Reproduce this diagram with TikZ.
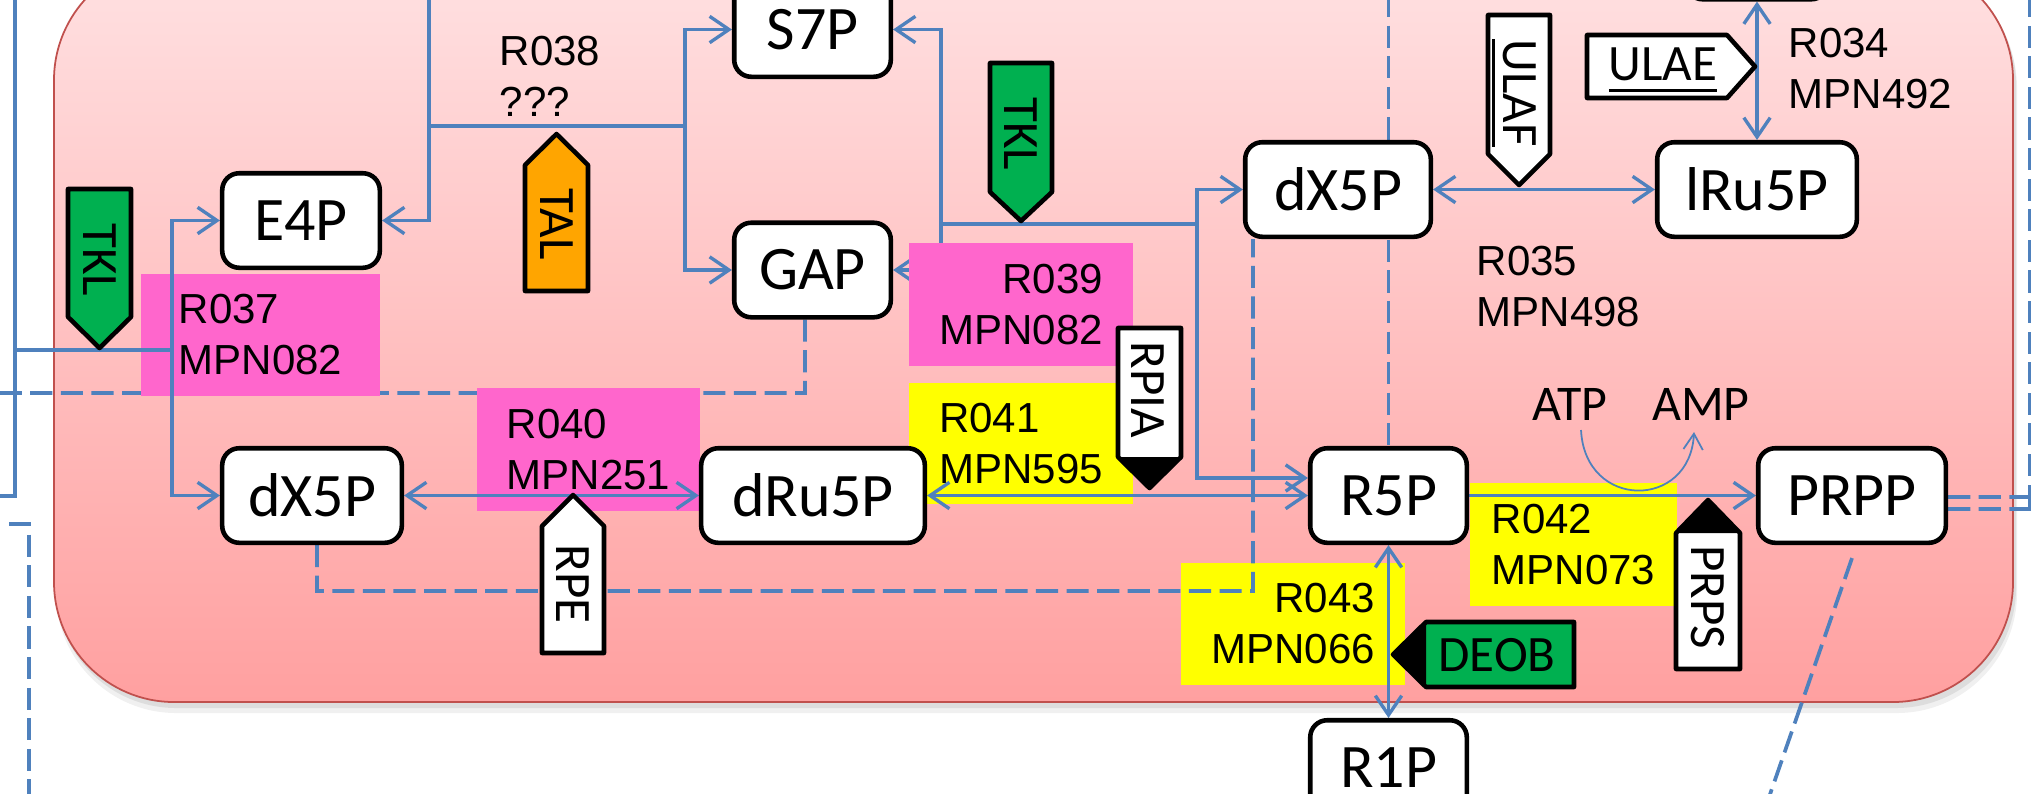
\documentclass[tikz,border=0pt]{standalone}
\usepackage{fontspec}
\setmainfont{Liberation Sans}
\newfontfamily\carlfont{Carlito}
\usetikzlibrary{arrows.meta,calc}
\definecolor{lineblue}{HTML}{4F81BD}
\definecolor{pinkbox}{HTML}{FF66CC}
\definecolor{yelbox}{HTML}{FFFF00}
\definecolor{enzgreen}{HTML}{00B050}
\definecolor{enzorange}{HTML}{FFA500}
\definecolor{rimred}{HTML}{C0504D}
\definecolor{bgtop}{HTML}{FFE1E2}
\definecolor{bgbot}{HTML}{FFA0A0}
\newcommand\myNF{\carlfont\fontsize{17.6pt}{21pt}\selectfont}
\newcommand\myLF{\fontsize{11.95pt}{14.5pt}\selectfont}
\newcommand\myEF{\carlfont\fontsize{14.5pt}{17pt}\selectfont}
\newcommand\myAF{\carlfont\fontsize{14.2pt}{17pt}\selectfont}
\newcommand\myUL[1]{\vtop{\hbox{#1}\kern2.2pt\hrule height 0.75pt}}
\pgfdeclarelayer{Lrect}
\pgfdeclarelayer{LdashA}
\pgfdeclarelayer{Lbox}
\pgfdeclarelayer{Ldash}
\pgfdeclarelayer{Lline}
\pgfdeclarelayer{Lboxtwo}
\pgfsetlayers{Lrect,LdashA,Lbox,Ldash,Lline,Lboxtwo,main}
\begin{document}
\begin{tikzpicture}[x=0.01cm,y=-0.01cm,
  metab/.style={draw=black,line width=1.3pt,fill=white,rounded corners=0.17cm,inner sep=0pt,font=\myNF,minimum height=0.945cm},
  conn/.style={draw=lineblue,line width=0.95pt},
  dbl/.style={{Straight Barb[length=5.5pt,width=7.5pt]}-{Straight Barb[length=5.5pt,width=7.5pt]}},
  sgl/.style={-{Straight Barb[length=5.5pt,width=7.5pt]}},
  thinconn/.style={draw=lineblue,line width=0.5pt,-{Straight Barb[length=4.5pt,width=5.5pt]}},
  dashline/.style={draw=lineblue,line width=1.05pt,dash pattern=on 6.3pt off 2.4pt},
  rbox/.style={inner sep=0pt,font=\myLF},
  lab/.style={inner sep=0pt,font=\myLF,align=left},
  tagline/.style={draw=black,line width=1.3pt,line join=round},
  etext/.style={inner sep=0pt,font=\myEF}
]
\useasboundingbox (0,0) rectangle (2031,793);

% ---------- background compartment ----------
\begin{pgfonlayer}{Lrect}
\fill[black,opacity=0.08,rounded corners=1.2cm] (56,-36) rectangle (2016,708);
\fill[black,opacity=0.06,rounded corners=1.2cm] (56,-32) rectangle (2017,713);
\shadedraw[top color=bgtop,bottom color=bgbot,draw=rimred,line width=0.5pt,rounded corners=1.2cm] (54,-40) rectangle (2013,702);
\end{pgfonlayer}

% ---------- metabolite nodes ----------
\node[metab,minimum width=1.575cm] (E4P) at (301,220.5) {E4P};
\node[metab,minimum width=1.565cm] (S7P) at (812.5,29.5) {S7P};
\node[metab,minimum width=1.565cm] (GAP) at (812.5,270) {GAP};
\node[metab,minimum width=1.855cm] (dX5P2) at (1338,189.5) {dX5P};
\node[metab,minimum width=1.995cm] (lRu5P) at (1757,189.5) {lRu5P};
\node[metab,minimum width=1.795cm] (dX5P1) at (312,495.5) {dX5P};
\node[metab,minimum width=2.235cm] (dRu5P) at (813,495.5) {dRu5P};
\node[metab,minimum width=1.565cm] (R5P) at (1388.5,495.5) {R5P};
\node[metab,minimum width=1.875cm] (PRPP) at (1852,495.5) {PRPP};
\node[metab,minimum width=1.565cm] (R1P) at (1388.5,767.5) {R1P};
\node[metab,minimum width=1.425cm] (topbox) at (1757,-48) {};

% ---------- coordinates ----------
\coordinate (lvTop) at (15,-5);
\coordinate (lvBot) at (15,496);
\coordinate (lhEnd) at (-5,496);
\coordinate (tklJ) at (15,350);
\coordinate (tklB) at (172,350);
\coordinate (r38top) at (429,-5);
\coordinate (r38J) at (429,126);
\coordinate (r38R) at (685,126);
\coordinate (r39J) at (941,224);
\coordinate (r39R) at (1197,224);
\coordinate (atpS) at (1581,430);
\coordinate (ampS) at (1694,432);
\coordinate (gapD1) at (805,393);
\coordinate (gapD2) at (-5,393);
\coordinate (dxD1) at (317,591);
\coordinate (dxD2) at (1253,591);
\coordinate (r5Top) at (1388.5,-5);
\coordinate (lD1) at (9,524);
\coordinate (lD2) at (29,524);
\coordinate (lD3) at (29,800);
\coordinate (pE1) at (2040,497);
\coordinate (pE2) at (2040,509);
\coordinate (reT) at (2030,-5);
\coordinate (reB) at (2030,513);
\coordinate (pD) at (1768,800);

% ---------- dashed line under pink boxes ----------
\begin{pgfonlayer}{LdashA}
\draw[dashline] ([xshift=-0.075cm]GAP.south) -- (gapD1) -- (gapD2);
\end{pgfonlayer}

% ---------- reaction label boxes ----------
\begin{pgfonlayer}{Lbox}
\node[rbox,fill=pinkbox,minimum width=2.39cm,minimum height=1.22cm,align=left] (L037) at (260.5,335) {R037\\MPN082};
\node[rbox,fill=pinkbox,minimum width=2.23cm,minimum height=1.23cm,align=left] (L040) at (588.5,449.5) {R040\\MPN251};
\node[rbox,fill=yelbox,minimum width=2.24cm,minimum height=1.21cm,align=left] (L041) at (1021,443.5) {R041\\MPN595};
\node[rbox,fill=yelbox,minimum width=2.07cm,minimum height=1.23cm,align=left] (L042) at (1573.5,544.5) {R042\\MPN073};
\node[rbox,fill=yelbox,minimum width=2.24cm,minimum height=1.22cm,align=right] (L043) at (1293,624) {R043\\MPN066};
\end{pgfonlayer}

% ---------- other dashed lines ----------
\begin{pgfonlayer}{Ldash}
\draw[dashline] ([xshift=0.05cm]dX5P1.south) -- (dxD1) -- (dxD2) -- ([xshift=-0.85cm]dX5P2.south);
\draw[dashline] (r5Top) -- (R5P.north);
\draw[dashline] (lD1) -- (lD2) -- (lD3);
\draw[dashline] ([yshift=-0.015cm]PRPP.east) -- (pE1);
\draw[dashline] ([yshift=-0.135cm]PRPP.east) -- (pE2);
\draw[dashline] (reT) -- (reB);
\draw[dashline] ([yshift=-0.13cm]PRPP.south) -- (pD);
\end{pgfonlayer}

% ---------- solid connectors ----------
\begin{pgfonlayer}{Lline}
\draw[conn] (lhEnd) -- (lvBot) -- (lvTop);
\draw[conn] (tklJ) -- (tklB);
\draw[conn,sgl] (tklB) |- (E4P.west);
\draw[conn,sgl] (tklB) |- (dX5P1.west);
\draw[conn,sgl] (r38top) |- (E4P.east);
\draw[conn] (r38J) -- (r38R);
\draw[conn,sgl] (r38R) |- (S7P.west);
\draw[conn,sgl] (r38R) |- (GAP.west);
\draw[conn,sgl] (r39J) |- (S7P.east);
\draw[conn,sgl] (r39J) |- (GAP.east);
\draw[conn] (r39J) -- (r39R);
\draw[conn,sgl] (r39R) |- (dX5P2.west);
\draw[conn,sgl] (r39R) |- ([yshift=0.175cm]R5P.west);
\draw[conn,dbl] (dX5P2.east) -- (lRu5P.west);
\draw[conn,dbl] (topbox.south) -- (lRu5P.north);
\draw[conn,dbl] (dX5P1.east) -- (dRu5P.west);
\draw[conn,dbl] (dRu5P.east) -- (R5P.west);
\draw[conn,sgl] (R5P.east) -- (PRPP.west);
\draw[conn,dbl] (R5P.south) -- (R1P.north);
\draw[thinconn] (atpS) .. controls (1585,510) and (1690,510) .. (ampS);
\end{pgfonlayer}

% ---------- R039 box (covers lines) ----------
\begin{pgfonlayer}{Lboxtwo}
\node[rbox,fill=pinkbox,minimum width=2.24cm,minimum height=1.23cm,align=right] (L039) at (1021,304.5) {R039\\MPN082};
\end{pgfonlayer}

% ---------- enzyme tags ----------
\draw[tagline,fill=enzgreen] (68,189) -- (131,189) -- (131,317) -- (99.5,348) -- (68,317) -- cycle;
\node[etext,rotate=-90] (eTKL1) at (99.5,260) {TKL};
\draw[tagline,fill=enzorange] (556.5,134) -- (588,165) -- (588,291) -- (525,291) -- (525,165) -- cycle;
\node[etext,rotate=-90] (eTAL) at (556.5,224) {TAL};
\draw[tagline,fill=enzgreen] (990,63) -- (1052,63) -- (1052,192) -- (1021,221) -- (990,192) -- cycle;
\node[etext,rotate=-90] (eTKL2) at (1021,134) {TKL};
\draw[tagline,fill=white] (1118,328) -- (1181,328) -- (1181,457) -- (1149.5,488) -- (1118,457) -- cycle;
\fill[black] (1118,457) -- (1181,457) -- (1149.5,488) -- cycle;
\node[etext,rotate=-90] (eRPIA) at (1148,390) {RPIA};
\draw[tagline,fill=white] (573,495) -- (604,526) -- (604,653) -- (542,653) -- (542,526) -- cycle;
\node[etext,rotate=-90] (eRPE) at (573,584) {RPE};
\draw[tagline,fill=white] (1708,500) -- (1740,533) -- (1740,669) -- (1676,669) -- (1676,533) -- cycle;
\fill[black] (1708,500) -- (1740,533) -- (1676,533) -- cycle;
\node[etext,rotate=-90] (ePRPS) at (1708,597) {PRPS};
\draw[tagline,fill=enzgreen] (1393,654.5) -- (1426,622) -- (1574,622) -- (1574,687) -- (1426,687) -- cycle;
\fill[black] (1393,654.5) -- (1426,622) -- (1426,687) -- cycle;
\node[etext] (eDEOB) at (1497,655) {DEOB};
\draw[tagline,fill=white] (1488,15) -- (1550,15) -- (1550,154) -- (1519,185) -- (1488,154) -- cycle;
\node[etext,rotate=-90] (eULAF) at (1514,93) {\myUL{ULAF}};
\draw[tagline,fill=white] (1587,35) -- (1727,35) -- (1755,66.5) -- (1727,98) -- (1587,98) -- cycle;
\node[etext] (eULAE) at (1663,70) {\myUL{ULAE}};

% ---------- free labels ----------
\node[lab,anchor=north west] (L038) at (499,35) {R038\\???};
\node[lab,anchor=north west] (L034) at (1788,27) {R034\\MPN492};
\node[lab,anchor=north west] (L035) at (1476,245) {R035\\MPN498};
\node[inner sep=0pt,font=\myAF] (ATP) at (1570,404) {ATP};
\node[inner sep=0pt,font=\myAF] (AMP) at (1701,404) {AMP};
\end{tikzpicture}
\end{document}
